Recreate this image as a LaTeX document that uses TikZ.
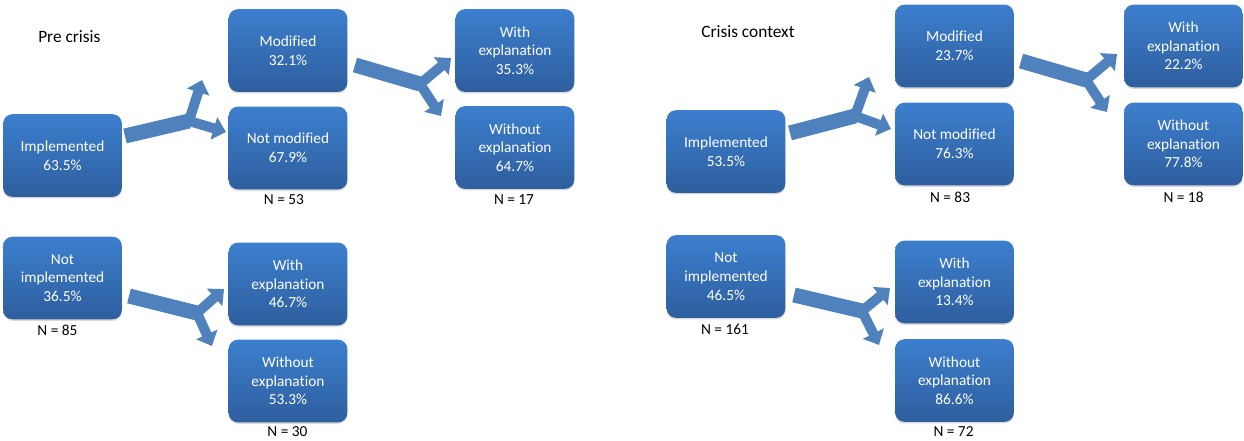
\documentclass[tikz,border=0pt]{standalone}
\usepackage{fontspec}
\setmainfont{Carlito}[Ligatures=NoCommon]
\usetikzlibrary{arrows.meta,shadows}
\definecolor{boxtop}{RGB}{60,127,206}
\definecolor{boxbot}{RGB}{46,94,158}
\definecolor{arrowblue}{RGB}{79,129,189}
\begin{document}
\begin{tikzpicture}[x=0.75pt,y=-0.75pt,
  box/.style={rectangle, rounded corners=7pt, minimum width=89pt, minimum height=62pt,
    top color=boxtop, bottom color=boxbot, draw=none, text=white, align=center,
    font=\fontsize{11.5}{14}\selectfont,
    drop shadow={shadow xshift=0pt, shadow yshift=-1.2pt, opacity=0.15, fill=black}},
  lbl/.style={text=black, inner sep=0pt, font=\fontsize{11.5}{14}\selectfont},
  title/.style={text=black, inner sep=0pt, anchor=west, font=\fontsize{13}{15}\selectfont},
  shaft/.style={draw=arrowblue, line width=11.25pt},
  branch/.style={draw=arrowblue, line width=7.5pt, -{Triangle[width=17pt,length=9.5pt]}}]

\useasboundingbox (0,0) rectangle (1244,441);

% ---------- Pre crisis ----------
\node[title] (t1) at (38,37) {Pre crisis};
\node[box] (impl1)    at (62.5,155.5) {Implemented\\63.5\%};
\node[box] (mod1)     at (288,50.5)   {Modified\\32.1\%};
\node[box] (nmod1)    at (288,148)    {Not modified\\67.9\%};
\node[box] (with1)    at (515,50.5)   {With\\explanation\\35.3\%};
\node[box] (wout1)    at (515,147.5)  {Without\\explanation\\64.7\%};
\node[box] (nimpl1)   at (62.5,278)   {Not\\implemented\\36.5\%};
\node[box] (with2)    at (288,284)    {With\\explanation\\46.7\%};
\node[box] (wout2)    at (288,381)    {Without\\explanation\\53.3\%};

\node[lbl] (n53) at (284,200)   {N = 53};
\node[lbl] (n17) at (514,200)   {N = 17};
\node[lbl] (n85) at (57.5,330)  {N = 85};
\node[lbl] (n30) at (287.5,432) {N = 30};

% ---------- Crisis context ----------
\node[title] (t2) at (701,32) {Crisis context};
\node[box] (impl2)    at (726,151.5)   {Implemented\\53.5\%};
\node[box] (mod2)     at (954.5,46)    {Modified\\23.7\%};
\node[box] (nmod2)    at (954.5,144)   {Not modified\\76.3\%};
\node[box] (with3)    at (1183.5,46)   {With\\explanation\\22.2\%};
\node[box] (wout3)    at (1183.5,144)  {Without\\explanation\\77.8\%};
\node[box] (nimpl2)   at (726,276.5)   {Not\\implemented\\46.5\%};
\node[box] (with4)    at (954.5,282)   {With\\explanation\\13.4\%};
\node[box] (wout4)    at (954.5,380.5) {Without\\explanation\\86.6\%};

\node[lbl] (n83)  at (950,197)    {N = 83};
\node[lbl] (n18)  at (1183.5,197) {N = 18};
\node[lbl] (n161) at (725,329)    {N = 161};
\node[lbl] (n72)  at (953.5,432)  {N = 72};

% ---------- split arrows: shaft start, fork, upper tip, lower tip ----------
\coordinate (a1s) at (125,136);  \coordinate (a1f) at (189,121);
\coordinate (a1u) at (202,80);   \coordinate (a1d) at (226,132);
\coordinate (a2s) at (355,65);   \coordinate (a2f) at (420,84);
\coordinate (a2u) at (451,58);   \coordinate (a2d) at (441,116);
\coordinate (a3s) at (129,296);  \coordinate (a3f) at (197,313);
\coordinate (a3u) at (224,289);  \coordinate (a3d) at (212,346);
\coordinate (a4s) at (790,133);  \coordinate (a4f) at (855,116);
\coordinate (a4u) at (869,77);   \coordinate (a4d) at (891,129);
\coordinate (a5s) at (1021,61);  \coordinate (a5f) at (1086,80);
\coordinate (a5u) at (1117,54);  \coordinate (a5d) at (1107,112);
\coordinate (a6s) at (794,295);  \coordinate (a6f) at (862,311);
\coordinate (a6u) at (890,288);  \coordinate (a6d) at (879,345);

\foreach \a in {a1,a2,a3,a4,a5,a6}{
  \draw[shaft]  (\a s) -- (\a f);
  \draw[branch] (\a f) -- (\a u);
  \draw[branch] (\a f) -- (\a d);
}
\end{tikzpicture}
\end{document}
